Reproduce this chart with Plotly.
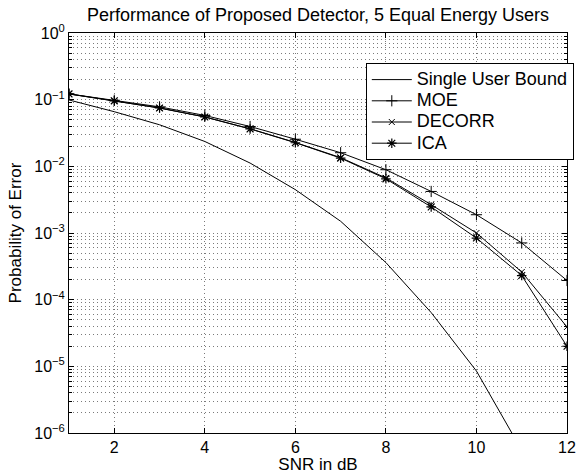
import plotly.graph_objects as go

snr_db = [1, 2, 3, 4, 5, 6, 7, 8, 9, 10, 11, 12]
single_user = [0.099, 0.066, 0.042, 0.0236, 0.0112, 0.00447, 0.0015, 3.6e-4, 6.4e-5, 8.5e-6, 5.5e-7, 2.5e-8]
moe = [0.122, 0.098, 0.078, 0.058, 0.0396, 0.0255, 0.016, 0.0089, 0.0042, 0.00188, 7.1e-4, 1.94e-4]
decorr = [0.122, 0.096, 0.075, 0.055, 0.0366, 0.0228, 0.0135, 0.0067, 0.00266, 0.0010, 2.6e-4, 3.9e-5]
ica = [0.122, 0.096, 0.075, 0.055, 0.0364, 0.0226, 0.0133, 0.0065, 0.00246, 8.4e-4, 2.3e-4, 2.0e-5]
series_names = ["Single User Bound", "MOE", "DECORR", "ICA"]

x_ticks = [2, 4, 6, 8, 10, 12]
y_tick_exps = [-6, -5, -4, -3, -2, -1, 0]
y_tickvals = [10.0 ** e for e in y_tick_exps]
y_ticktext = ["10<sup>%s</sup>" % (("\u2212%d" % -e) if e < 0 else "0") for e in y_tick_exps]
y_minor = [m * 10.0 ** e for e in y_tick_exps[:-1] for m in range(2, 10)]

FONT = "Liberation Sans, Arial, Helvetica, sans-serif"
GRID_COLOR = "#7a7a7a"
GRID_DASH = "1px,3px"


def leg(name):
    return '<span style="font-size:18px">%s</span>' % name


fig = go.Figure()
fig.add_trace(go.Scatter(x=snr_db, y=single_user, mode="lines", name=leg(series_names[0]),
                         line=dict(color="black", width=1)))
fig.add_trace(go.Scatter(x=snr_db, y=moe, mode="lines+markers", name=leg(series_names[1]),
                         line=dict(color="black", width=1),
                         marker=dict(symbol="cross-thin", size=8, line=dict(color="black", width=1))))
fig.add_trace(go.Scatter(x=snr_db, y=decorr, mode="lines+markers", name=leg(series_names[2]),
                         line=dict(color="black", width=1),
                         marker=dict(symbol="x-thin", size=6, line=dict(color="black", width=1))))
fig.add_trace(go.Scatter(x=snr_db, y=ica, mode="lines+markers", name=leg(series_names[3]),
                         line=dict(color="black", width=1),
                         marker=dict(symbol="asterisk-open", size=8, color="black",
                                     line=dict(color="black", width=1.2))))

fig.update_layout(
    width=579, height=474,
    margin=dict(l=69, r=12, t=33, b=41, autoexpand=False),
    paper_bgcolor="white", plot_bgcolor="white",
    font=dict(family=FONT, size=16, color="black"),
    title=dict(text="Performance of Proposed Detector, 5 Equal Energy Users",
               x=(69 + 567) / 2 / 579, xanchor="center", y=1 - 15 / 474, yanchor="middle",
               font=dict(size=18, family=FONT)),
    showlegend=True,
    legend=dict(x=0.596, y=0.925, xanchor="left", yanchor="top",
                bgcolor="white", bordercolor="black", borderwidth=1,
                font=dict(size=14, family=FONT), tracegroupgap=0, itemwidth=40),
    xaxis=dict(range=[1, 12], tickvals=x_ticks, ticks="inside", ticklen=5, tickcolor="black",
               showline=True, linecolor="black", linewidth=1, mirror="ticks",
               zeroline=False, automargin=False,
               title=dict(text="SNR in dB", standoff=0, font=dict(size=17)),
               tickfont=dict(size=16),
               showgrid=True, gridcolor=GRID_COLOR, gridwidth=1, griddash=GRID_DASH),
    yaxis=dict(type="log", range=[-6, 0], tickvals=y_tickvals, ticktext=y_ticktext,
               ticks="inside", ticklen=5, tickcolor="black",
               showline=True, linecolor="black", linewidth=1,
               mirror="ticks", zeroline=False, automargin=False,
               title=dict(text="Probability of Error", standoff=8, font=dict(size=17)),
               tickfont=dict(size=16),
               showgrid=True, gridcolor=GRID_COLOR, gridwidth=1, griddash=GRID_DASH,
               minor=dict(tickvals=y_minor, ticks="inside", ticklen=3, tickcolor="black",
                          showgrid=True, gridcolor=GRID_COLOR, gridwidth=1, griddash=GRID_DASH)),
)

fig.write_html("out.html", config={"displayModeBar": False},
               post_script="document.body.style.margin='0';document.body.style.overflow='hidden';")
